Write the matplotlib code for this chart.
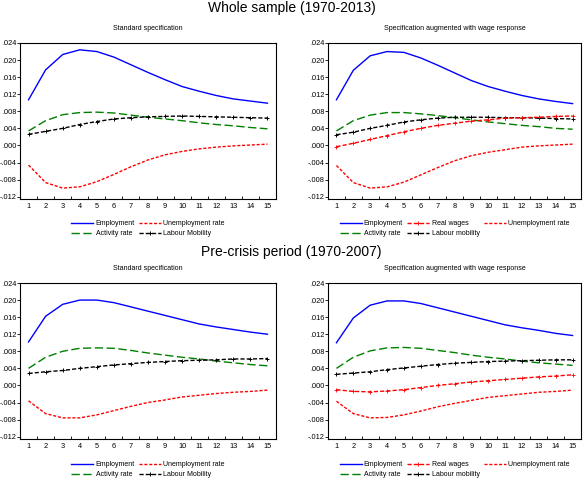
import matplotlib
matplotlib.use("Agg")
import matplotlib.pyplot as plt
from matplotlib.ticker import FixedLocator, FuncFormatter

plt.rcParams['font.family'] = ['Liberation Sans', 'DejaVu Sans']

periods = list(range(1, 16))

# Whole sample - standard specification
ws_std_employment = [0.0107, 0.0177, 0.0213, 0.0224, 0.0220, 0.0207, 0.0189, 0.0171, 0.0154, 0.0138, 0.0127, 0.0117, 0.0109, 0.0104, 0.0099]
ws_std_unemployment = [-0.0046, -0.0087, -0.0100, -0.0097, -0.0085, -0.0068, -0.0050, -0.0034, -0.0022, -0.0014, -0.0008, -0.0004, -0.0001, 0.0001, 0.0003]
ws_std_activity = [0.0034, 0.0058, 0.0072, 0.0077, 0.0078, 0.0076, 0.0071, 0.0066, 0.0062, 0.0058, 0.0053, 0.0049, 0.0046, 0.0042, 0.0039]
ws_std_mobility = [0.0026, 0.0033, 0.0040, 0.0049, 0.0056, 0.0062, 0.0065, 0.0067, 0.0068, 0.0069, 0.0068, 0.0067, 0.0066, 0.0065, 0.0064]

# Whole sample - augmented with wage response
ws_aug_employment = [0.0107, 0.0176, 0.0210, 0.0220, 0.0218, 0.0205, 0.0188, 0.0170, 0.0152, 0.0138, 0.0127, 0.0117, 0.0109, 0.0103, 0.0098]
ws_aug_wages = [-0.0003, 0.0005, 0.0014, 0.0023, 0.0032, 0.0040, 0.0047, 0.0052, 0.0057, 0.0060, 0.0064, 0.0065, 0.0066, 0.0068, 0.0069]
ws_aug_unemployment = [-0.0047, -0.0087, -0.0100, -0.0097, -0.0086, -0.0069, -0.0052, -0.0036, -0.0024, -0.0016, -0.0010, -0.0004, -0.0001, 0.0001, 0.0003]
ws_aug_activity = [0.0034, 0.0058, 0.0071, 0.0077, 0.0077, 0.0074, 0.0070, 0.0065, 0.0060, 0.0055, 0.0051, 0.0047, 0.0044, 0.0040, 0.0038]
ws_aug_mobility = [0.0025, 0.0031, 0.0040, 0.0047, 0.0055, 0.0060, 0.0064, 0.0066, 0.0066, 0.0066, 0.0065, 0.0065, 0.0064, 0.0063, 0.0062]

# Pre-crisis - standard specification
pc_std_employment = [0.0102, 0.0162, 0.0190, 0.0200, 0.0200, 0.0194, 0.0184, 0.0174, 0.0164, 0.0154, 0.0144, 0.0137, 0.0131, 0.0125, 0.0120]
pc_std_unemployment = [-0.0036, -0.0066, -0.0076, -0.0076, -0.0069, -0.0059, -0.0049, -0.0040, -0.0034, -0.0027, -0.0023, -0.0019, -0.0016, -0.0014, -0.0011]
pc_std_activity = [0.0040, 0.0066, 0.0080, 0.0087, 0.0088, 0.0087, 0.0082, 0.0076, 0.0071, 0.0066, 0.0062, 0.0057, 0.0053, 0.0049, 0.0046]
pc_std_mobility = [0.0028, 0.0032, 0.0035, 0.0040, 0.0044, 0.0048, 0.0051, 0.0054, 0.0056, 0.0058, 0.0059, 0.0060, 0.0062, 0.0062, 0.0063]

# Pre-crisis - augmented with wage response
pc_aug_employment = [0.0100, 0.0158, 0.0188, 0.0198, 0.0198, 0.0192, 0.0182, 0.0172, 0.0162, 0.0152, 0.0142, 0.0135, 0.0129, 0.0122, 0.0117]
pc_aug_wages = [-0.0010, -0.0014, -0.0015, -0.0013, -0.0010, -0.0005, 0.0000, 0.0004, 0.0008, 0.0011, 0.0014, 0.0017, 0.0020, 0.0022, 0.0025]
pc_aug_unemployment = [-0.0037, -0.0066, -0.0076, -0.0075, -0.0069, -0.0060, -0.0050, -0.0042, -0.0035, -0.0028, -0.0024, -0.0020, -0.0016, -0.0014, -0.0011]
pc_aug_activity = [0.0040, 0.0066, 0.0081, 0.0088, 0.0089, 0.0087, 0.0082, 0.0077, 0.0071, 0.0066, 0.0062, 0.0057, 0.0053, 0.0050, 0.0047]
pc_aug_mobility = [0.0026, 0.0029, 0.0032, 0.0037, 0.0041, 0.0045, 0.0049, 0.0052, 0.0054, 0.0056, 0.0057, 0.0058, 0.0059, 0.0060, 0.0060]

y_ticks = [-0.012, -0.008, -0.004, 0.000, 0.004, 0.008, 0.012, 0.016, 0.020, 0.024]

main_titles = ["Whole sample (1970-2013)", "Pre-crisis period (1970-2007)"]
sub_titles = ["Standard specification", "Specification augmented with wage response"]

W, H = 583, 478
fig = plt.figure(figsize=(W / 100, H / 100), dpi=100)


def fy(px):
    return 1 - px / H


def fx(px):
    return px / W


def fmt(v, pos):
    if abs(v) < 1e-9:
        return ".000"
    return ("%.3f" % v).replace("0.", ".")


LW = 1.0


def style_axes(ax):
    ax.set_xlim(0.5, 15.5)
    ax.set_ylim(-0.01255, 0.024)
    ax.yaxis.set_major_locator(FixedLocator(y_ticks))
    ax.yaxis.set_major_formatter(FuncFormatter(fmt))
    ax.set_xticks(periods)
    ax.set_xticklabels([str(p) for p in periods])
    ax.set_xticks([p + 0.5 for p in periods[:-1]], minor=True)
    ax.tick_params(axis='x', which='major', length=0, labelsize=5.3, pad=3)
    ax.tick_params(axis='x', which='minor', length=2.0, width=0.6, direction='in')
    ax.tick_params(axis='y', which='major', length=2.0, width=0.6, labelsize=5.3, pad=0.5)
    for s in ax.spines.values():
        s.set_linewidth(0.8)
        s.set_color('black')


def plot_panel(ax, emp, unemp, act, mob, wages=None, mob_label="Labour Mobility"):
    h_emp, = ax.plot(periods, emp, color='#0000ff', lw=LW, label="Employment")
    h_un, = ax.plot(periods, unemp, color='#ff0000', lw=LW, dashes=(2.2, 1.3), label="Unemployment rate")
    h_act, = ax.plot(periods, act, color='#008000', lw=LW, dashes=(6, 2.5), label="Activity rate")
    h_mob, = ax.plot(periods, mob, color='black', lw=LW, dashes=(3, 1.5), marker='+', markersize=3.2,
                     markeredgewidth=0.7, label=mob_label)
    h_w = None
    if wages is not None:
        h_w, = ax.plot(periods, wages, color='#ff0000', lw=LW, dashes=(3, 1.5), marker='+', markersize=2.8,
                       markeredgewidth=0.6, label="Real wages")
    return h_emp, h_un, h_act, h_mob, h_w


layout = [
    # (left, right, top, bottom) in pixels
    (20, 276, 43, 199),
    (328, 581, 43, 199),
    (20, 276, 283, 439),
    (328, 581, 283, 439),
]

panels = [
    (ws_std_employment, ws_std_unemployment, ws_std_activity, ws_std_mobility, None),
    (ws_aug_employment, ws_aug_unemployment, ws_aug_activity, ws_aug_mobility, ws_aug_wages),
    (pc_std_employment, pc_std_unemployment, pc_std_activity, pc_std_mobility, None),
    (pc_aug_employment, pc_aug_unemployment, pc_aug_activity, pc_aug_mobility, pc_aug_wages),
]

legend_top = [220, 220, 461, 461]
sub_y = [28, 28, 269, 269]

for i, ((l, r, t, b), (emp, un, act, mob, wg)) in enumerate(zip(layout, panels)):
    ax = fig.add_axes([fx(l), fy(b), fx(r - l), (b - t) / H])
    style_axes(ax)
    mob_label = "Labour Mobility" if wg is None else "Labour mobility"
    h_emp, h_un, h_act, h_mob, h_w = plot_panel(ax, emp, un, act, mob, wg, mob_label)
    cx = fx((l + r) / 2)
    fig.text(cx, fy(sub_y[i]), sub_titles[i % 2], ha='center', va='center', fontsize=5)
    if wg is None:
        handles = [h_emp, h_act, h_un, h_mob]
        ncol = 2
    else:
        handles = [h_emp, h_act, h_w, h_mob, h_un]
        ncol = 3
    fig.legend(handles=handles, labels=[h.get_label() for h in handles], ncol=ncol,
               loc='upper center', bbox_to_anchor=(cx, fy(legend_top[i])),
               bbox_transform=fig.transFigure, frameon=False, fontsize=5,
               handlelength=3.2, handletextpad=0.3, columnspacing=0.6,
               labelspacing=0.45, borderpad=0, borderaxespad=0)

fig.text(0.5, fy(8), main_titles[0], ha='center', va='center', fontsize=10)
fig.text(0.5, fy(252), main_titles[1], ha='center', va='center', fontsize=10)

fig.savefig("out.png", dpi=100)
